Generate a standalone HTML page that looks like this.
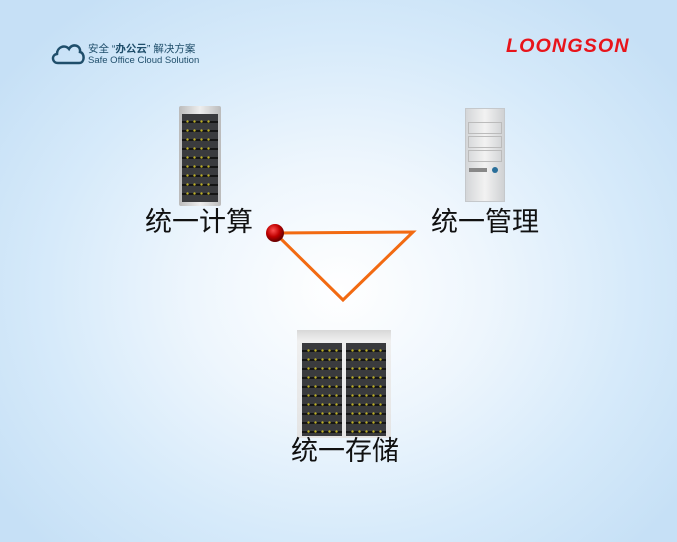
<!DOCTYPE html>
<html><head><meta charset="utf-8"><style>
*{margin:0;padding:0}
body{width:677px;height:542px;overflow:hidden;position:relative;font-family:"Liberation Sans","Noto Sans CJK SC",sans-serif;
background:radial-gradient(ellipse 420px 360px at 340px 290px,#ffffff 0%,#eef6fd 35%,#d6eafa 70%,#c6e0f6 100%);}
.abs{position:absolute}
.lbl{position:absolute;font-size:27px;color:#111;white-space:nowrap;line-height:30px}
.rack{position:absolute;background:#2a2b2d;
background-image:repeating-linear-gradient(180deg,#3a3b3e 0 7px,#151515 7px 9px);}
.dots{position:absolute;background-image:radial-gradient(circle,#e6d42a 1px,transparent 1.4px);background-size:7px 9px}
</style></head><body>
<svg class="abs" style="left:50px;top:40px" width="36" height="26" viewBox="0 0 36 26"><path d="M8 23 C2 23 1 15 7 14 C7 7 15 4 19 9 C22 3 31 5 30 12 C35 13 35 23 29 23 Z" fill="none" stroke="#1f4e6b" stroke-width="2.5"/></svg>
<div class="abs" style="left:88px;top:41px;font-size:10.5px;color:#1f4e6b">安全 “<b>办公云</b>” 解决方案</div>
<div class="abs" style="left:88px;top:55px;font-size:9.5px;color:#1f4e6b">Safe Office Cloud Solution</div>
<div class="abs" style="left:506px;top:36px;font-size:19px;font-weight:bold;font-style:italic;color:#e8141b;letter-spacing:1px;transform:scaleX(1.04);transform-origin:left">LOONGSON</div>
<div class="abs" style="left:179px;top:106px;width:42px;height:100px;background:linear-gradient(90deg,#bbb,#eee 50%,#bbb);border-radius:2px"></div>
<div class="rack" style="left:182px;top:114px;width:36px;height:88px"></div>
<div class="dots" style="left:184px;top:117px;width:30px;height:82px;opacity:.8"></div>
<div class="abs" style="left:465px;top:108px;width:38px;height:92px;background:linear-gradient(90deg,#d4d6d8,#f2f2f2 50%,#cfd1d3);border:1px solid #c5c8cb"></div>
<div class="abs" style="left:468px;top:122px;width:32px;height:10px;border:1px solid #bbb"></div>
<div class="abs" style="left:468px;top:136px;width:32px;height:10px;border:1px solid #bbb"></div>
<div class="abs" style="left:468px;top:150px;width:32px;height:10px;border:1px solid #bbb"></div>
<div class="abs" style="left:469px;top:168px;width:18px;height:4px;background:#888"></div>
<div class="abs" style="left:492px;top:167px;width:6px;height:6px;border-radius:50%;background:#2a6f9a"></div>
<div class="abs" style="left:297px;top:330px;width:94px;height:108px;background:linear-gradient(180deg,#d8d8d8,#efefef 10%,#e4e4e4)"></div>
<div class="rack" style="left:302px;top:343px;width:40px;height:93px"></div>
<div class="rack" style="left:346px;top:343px;width:40px;height:93px"></div>
<div class="dots" style="left:305px;top:346px;width:34px;height:88px;opacity:.8"></div>
<div class="dots" style="left:349px;top:346px;width:34px;height:88px;opacity:.8"></div>
<svg class="abs" style="left:0;top:0" width="677" height="542">
<defs><radialGradient id="r" cx="40%" cy="35%" r="60%"><stop offset="0" stop-color="#ff5050"/><stop offset=".6" stop-color="#c00000"/><stop offset="1" stop-color="#700000"/></radialGradient></defs>
<polyline points="275,233 413,232 343,300 275,233" fill="none" stroke="#f26a12" stroke-width="3"/>
<circle cx="275" cy="233" r="9" fill="url(#r)"/>
</svg>
<div class="lbl" style="left:145px;top:207px">统一计算</div>
<div class="lbl" style="left:431px;top:207px">统一管理</div>
<div class="lbl" style="left:291px;top:436px">统一存储</div>
</body></html>
